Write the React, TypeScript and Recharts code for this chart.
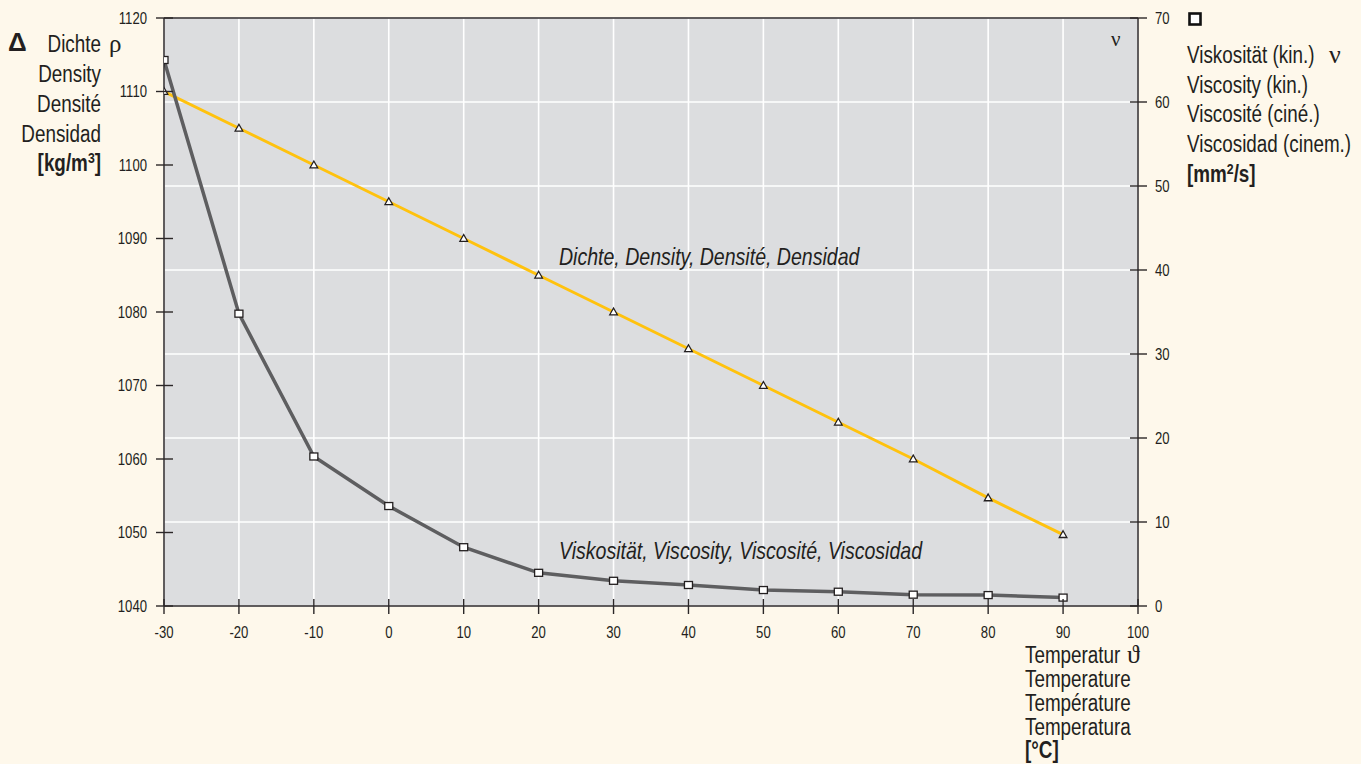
import React from 'react';
import { ComposedChart, Line, XAxis, YAxis, CartesianGrid, ReferenceLine } from 'recharts';

const temperatures = [-30, -20, -10, 0, 10, 20, 30, 40, 50, 60, 70, 80, 90];
const density = [1110, 1105, 1100, 1095, 1090, 1085, 1080, 1075, 1070, 1065, 1060, 1054.7, 1049.7];
const viscosity = [65.0, 34.8, 17.8, 11.9, 7.0, 3.95, 3.0, 2.5, 1.9, 1.7, 1.35, 1.3, 1.0];
const xTicks = [-30, -20, -10, 0, 10, 20, 30, 40, 50, 60, 70, 80, 90, 100];
const densityTicks = [1040, 1050, 1060, 1070, 1080, 1090, 1100, 1110, 1120];
const viscosityTicks = [0, 10, 20, 30, 40, 50, 60, 70];

const leftLabelLines = ['Dichte', 'Density', 'Densité', 'Densidad'];
const rightLabelLines = ['Viskosität (kin.)', 'Viscosity (kin.)', 'Viscosité (ciné.)', 'Viscosidad (cinem.)'];
const bottomLabelLines = ['Temperatur', 'Temperature', 'Température', 'Temperatura'];
const densityCaption = 'Dichte, Density, Densité, Densidad';
const viscosityCaption = 'Viskosität, Viscosity, Viscosité, Viscosidad';

const data = temperatures.map((t, i) => ({ t, density: density[i], viscosity: viscosity[i] }));

const FONT = "'Liberation Sans', Arial, sans-serif";
const SERIF = "'Liberation Serif', 'DejaVu Serif', serif";
const AX = '#2B2728';
const TXT = '#231F20';
const SX = 0.82;

const NText = (p: any) => {
  const { x, y, anchor = 'start', size = 23, weight = 'normal', italic = false, sx = SX, dy, children } = p;
  return (
    <text
      transform={`translate(${x},${y}) scale(${sx},1)`}
      x={0}
      y={0}
      dy={dy}
      textAnchor={anchor}
      fontSize={size}
      fontWeight={weight}
      fontStyle={italic ? 'italic' : 'normal'}
      fontFamily={FONT}
      fill={TXT}
    >
      {children}
    </text>
  );
};

const LeftTick = (props: any) => {
  const { x, y, payload } = props;
  return (
    <g>
      <line x1={x - 8} x2={x + 9} y1={y} y2={y} stroke={AX} strokeWidth={1.4} />
      <NText x={x - 17} y={y} dy="0.36em" anchor="end" size={16}>{payload.value}</NText>
    </g>
  );
};

const RightTick = (props: any) => {
  const { x, y, payload } = props;
  return (
    <g>
      <line x1={x - 8} x2={x + 9} y1={y} y2={y} stroke={AX} strokeWidth={1.4} />
      <NText x={x + 17} y={y} dy="0.36em" anchor="start" size={16}>{payload.value}</NText>
    </g>
  );
};

const BottomTick = (props: any) => {
  const { x, y, payload } = props;
  return (
    <g>
      <line x1={x} x2={x} y1={y - 7} y2={y + 8} stroke={AX} strokeWidth={1.4} />
      <NText x={x} y={y + 26} dy="0.36em" anchor="middle" size={16}>{payload.value}</NText>
    </g>
  );
};

const TriangleDot = (props: any) => {
  const { cx, cy, index } = props;
  if (cx == null || cy == null) return <g key={`t${index}`} />;
  return (
    <path
      key={`t${index}`}
      d={`M${cx},${cy - 4} L${cx + 3.8},${cy + 2.8} L${cx - 3.8},${cy + 2.8} Z`}
      fill="#FFFFFF"
      stroke={TXT}
      strokeWidth={1.3}
    />
  );
};

const SquareDot = (props: any) => {
  const { cx, cy, index } = props;
  if (cx == null || cy == null) return <g key={`s${index}`} />;
  return (
    <rect key={`s${index}`} x={cx - 4} y={cy - 3.5} width={8} height={7} fill="#FFFFFF" stroke={TXT} strokeWidth={1.3} />
  );
};

export default function App() {
  return (
    <div style={{ position: 'absolute', left: 0, top: 0, width: 1361, height: 764, background: '#FEF8EB', overflow: 'hidden' }}>
      <ComposedChart width={1361} height={764} data={data} margin={{ top: 18, right: 0, bottom: 0, left: 0 }}>
        <CartesianGrid yAxisId="right" fill="#DCDDDF" stroke="#FFFFFF" strokeWidth={1.6} />
        <XAxis
          dataKey="t"
          type="number"
          domain={[-30, 100]}
          ticks={xTicks}
          height={158}
          tickSize={0}
          tickMargin={0}
          tickLine={false}
          axisLine={{ stroke: AX, strokeWidth: 1.5 }}
          tick={<BottomTick />}
          allowDataOverflow
        />
        <YAxis
          yAxisId="left"
          orientation="left"
          type="number"
          domain={[1040, 1120]}
          ticks={densityTicks}
          width={164}
          tickSize={0}
          tickMargin={0}
          tickLine={false}
          axisLine={{ stroke: AX, strokeWidth: 1.5 }}
          tick={<LeftTick />}
          allowDataOverflow
        />
        <YAxis
          yAxisId="right"
          orientation="right"
          type="number"
          domain={[0, 70]}
          ticks={viscosityTicks}
          width={223}
          tickSize={0}
          tickMargin={0}
          tickLine={false}
          axisLine={{ stroke: AX, strokeWidth: 1.5 }}
          tick={<RightTick />}
          allowDataOverflow
        />
        <ReferenceLine yAxisId="left" y={1120} stroke={AX} strokeWidth={1.5} />
        <Line
          yAxisId="left"
          type="linear"
          dataKey="density"
          stroke="#FFC20E"
          strokeWidth={3}
          dot={TriangleDot}
          activeDot={false}
          isAnimationActive={false}
        />
        <Line
          yAxisId="right"
          type="linear"
          dataKey="viscosity"
          stroke="#5E5E60"
          strokeWidth={3.5}
          dot={SquareDot}
          activeDot={false}
          isAnimationActive={false}
        />
      </ComposedChart>
      <svg width={1361} height={764} style={{ position: 'absolute', left: 0, top: 0, pointerEvents: 'none' }}>
        <text x={8} y={51} fontWeight="bold" fontSize={26} fontFamily={FONT} fill={TXT}>Δ</text>
        {leftLabelLines.map((s, i) => (
          <NText key={s} x={101} y={52 + i * 30} anchor="end">{s}</NText>
        ))}
        <text x={109} y={52} fontFamily={SERIF} fontSize={25} fill={TXT}>ρ</text>
        <NText x={101} y={171} anchor="end" weight="bold">
          [kg/m<tspan fontSize={15} dy={-8}>3</tspan><tspan dy={8}>]</tspan>
        </NText>

        <rect x={1189.5} y={13.5} width={11} height={11} fill="#FFFFFF" stroke="#111" strokeWidth={2.6} />
        {rightLabelLines.map((s, i) => (
          <NText key={s} x={1187} y={63 + i * 29.7}>{s}</NText>
        ))}
        <text x={1329} y={63} fontFamily={SERIF} fontSize={26} fill={TXT}>ν</text>
        <NText x={1187} y={182} weight="bold">
          [mm<tspan fontSize={15} dy={-8}>2</tspan><tspan dy={8}>/s]</tspan>
        </NText>

        {bottomLabelLines.map((s, i) => (
          <NText key={s} x={1025} y={663 + i * 24}>{s}</NText>
        ))}
        <text x={1127} y={663} fontFamily={SERIF} fontSize={26} fill={TXT}>ϑ</text>
        <NText x={1025} y={758} weight="bold">[°C]</NText>

        <text x={1111} y={46} fontFamily={SERIF} fontSize={21} fill={TXT}>ν</text>
        <NText x={559} y={265} italic sx={0.85}>{densityCaption}</NText>
        <NText x={559} y={559} italic sx={0.85}>{viscosityCaption}</NText>
      </svg>
    </div>
  );
}
